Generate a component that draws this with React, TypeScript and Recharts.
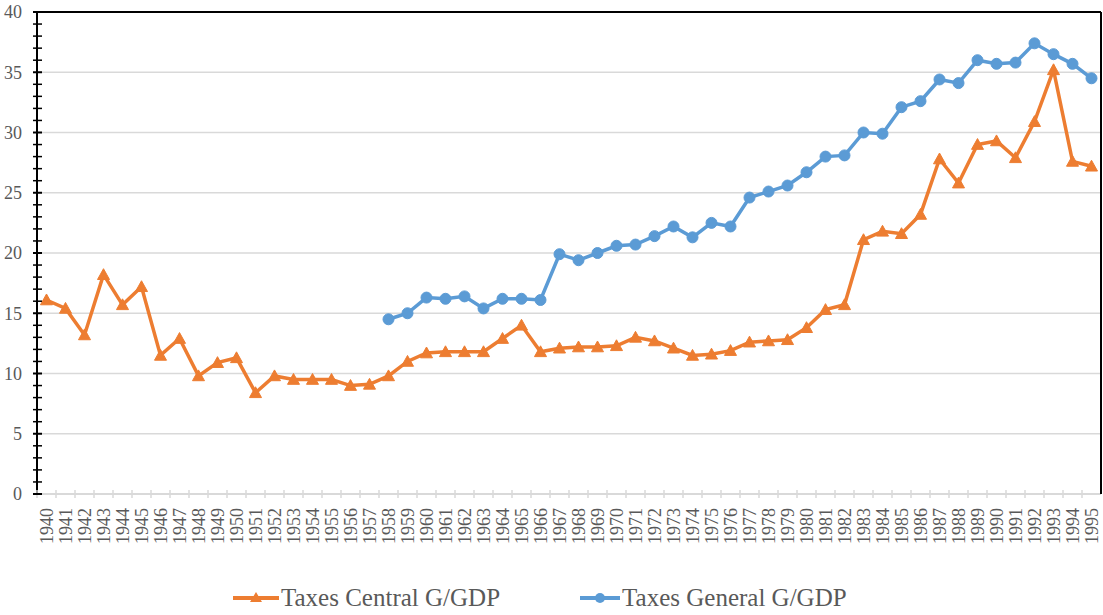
import React from 'react';
import { LineChart, Line, XAxis, YAxis, CartesianGrid, Legend } from 'recharts';

const years = [
  '1940','1941','1942','1943','1944','1945','1946','1947','1948','1949',
  '1950','1951','1952','1953','1954','1955','1956','1957','1958','1959',
  '1960','1961','1962','1963','1964','1965','1966','1967','1968','1969',
  '1970','1971','1972','1973','1974','1975','1976','1977','1978','1979',
  '1980','1981','1982','1983','1984','1985','1986','1987','1988','1989',
  '1990','1991','1992','1993','1994','1995',
];

const taxesCentral = [
  16.1, 15.4, 13.2, 18.2, 15.7, 17.2, 11.5, 12.9, 9.8, 10.9,
  11.3, 8.4, 9.8, 9.5, 9.5, 9.5, 9.0, 9.1, 9.8, 11.0,
  11.7, 11.8, 11.8, 11.8, 12.9, 14.0, 11.8, 12.1, 12.2, 12.2,
  12.3, 13.0, 12.7, 12.1, 11.5, 11.6, 11.9, 12.6, 12.7, 12.8,
  13.8, 15.3, 15.7, 21.1, 21.8, 21.6, 23.2, 27.8, 25.8, 29.0,
  29.3, 27.9, 30.9, 35.2, 27.6, 27.2,
];

const taxesGeneral: (number | null)[] = [
  null, null, null, null, null, null, null, null, null, null,
  null, null, null, null, null, null, null, null, 14.5, 15.0,
  16.3, 16.2, 16.4, 15.4, 16.2, 16.2, 16.1, 19.9, 19.4, 20.0,
  20.6, 20.7, 21.4, 22.2, 21.3, 22.5, 22.2, 24.6, 25.1, 25.6,
  26.7, 28.0, 28.1, 30.0, 29.9, 32.1, 32.6, 34.4, 34.1, 36.0,
  35.7, 35.8, 37.4, 36.5, 35.7, 34.5,
];

const yMajorTicks = [0, 5, 10, 15, 20, 25, 30, 35, 40];
const yMinorTicks = [
  0, 1, 2, 3, 4, 5, 6, 7, 8, 9, 10, 11, 12, 13, 14, 15, 16, 17, 18, 19, 20,
  21, 22, 23, 24, 25, 26, 27, 28, 29, 30, 31, 32, 33, 34, 35, 36, 37, 38, 39, 40,
];
const gridValues = [5, 10, 15, 20, 25, 30, 35];

const seriesNames = { central: 'Taxes Central G/GDP', general: 'Taxes General G/GDP' };
const ORANGE = '#ED7D31';
const BLUE = '#5B9BD5';
const FONT = '"Liberation Serif", "Times New Roman", serif';
const TEXT = '#595959';

const data = years.map((y, i) => ({
  year: y,
  central: taxesCentral[i],
  general: taxesGeneral[i],
}));

const Triangle = (props: any) => {
  const { cx, cy } = props;
  if (cx == null || cy == null) return null;
  const s = 6;
  return (
    <path
      d={`M${cx},${cy - s} L${cx + s},${cy + s * 0.8} L${cx - s},${cy + s * 0.8} Z`}
      fill={ORANGE}
      stroke={ORANGE}
      strokeWidth={1}
    />
  );
};

const Circle = (props: any) => {
  const { cx, cy, value } = props;
  if (cx == null || cy == null || value == null) return null;
  return <circle cx={cx} cy={cy} r={5.5} fill={BLUE} stroke={BLUE} />;
};

const XTick = (props: any) => {
  const { x, y, payload } = props;
  return (
    <g>
      <line x1={x - 9.5} x2={x - 9.5} y1={y - 12} y2={y - 4} stroke="#d9d9d9" strokeWidth={1.5} />
      <g transform={`translate(${x},${y})`}>
        <text
          x={-6}
          y={0}
          dy="0.35em"
          transform="rotate(-90)"
          textAnchor="end"
          fontFamily={FONT}
          fontSize={18}
          fill={TEXT}
        >
          {payload.value}
        </text>
      </g>
    </g>
  );
};

const YTick = (props: any) => {
  const { x, y, payload } = props;
  const v = payload.value;
  const major = yMajorTicks.includes(v);
  return (
    <g>
      <line x1={x + 11} x2={x + 20} y1={y} y2={y} stroke="#000" strokeWidth={major ? 2 : 1.5} />
      {major && (
        <text x={x} y={y} dy="0.35em" textAnchor="end" fontFamily={FONT} fontSize={18} fill={TEXT}>
          {v}
        </text>
      )}
    </g>
  );
};

const LegendContent = () => (
  <div
    style={{
      display: 'flex',
      justifyContent: 'flex-start',
      alignItems: 'center',
      height: 40,
      paddingLeft: 233,
      paddingTop: 6,
      boxSizing: 'border-box',
      fontFamily: FONT,
      fontSize: 25,
      color: TEXT,
      gap: 80,
    }}
  >
    <div style={{ display: 'flex', alignItems: 'center' }}>
      <svg width={46} height={20}>
        <line x1={0} x2={46} y1={10} y2={10} stroke={ORANGE} strokeWidth={4} />
        <path d="M23,4 L29,14 L17,14 Z" fill={ORANGE} />
      </svg>
      <span style={{ marginLeft: 2 }}>{seriesNames.central}</span>
    </div>
    <div style={{ display: 'flex', alignItems: 'center' }}>
      <svg width={40} height={20}>
        <line x1={0} x2={40} y1={10} y2={10} stroke={BLUE} strokeWidth={4} />
        <circle cx={20} cy={10} r={5} fill={BLUE} />
      </svg>
      <span style={{ marginLeft: 2 }}>{seriesNames.general}</span>
    </div>
  </div>
);

export default function App() {
  return (
    <div style={{ position: 'absolute', left: 0, top: 0, width: 1103, height: 615, background: '#fff' }}>
      <LineChart
        width={1103}
        height={615}
        data={data}
        margin={{ top: 11, right: 0, bottom: 0, left: 0 }}
      >
        <CartesianGrid
          horizontal={true}
          vertical={false}
          horizontalValues={gridValues}
          stroke="#d9d9d9"
          strokeWidth={1.5}
        />
        <XAxis
          dataKey="year"
          scale="band"
          interval={0}
          height={81}
          axisLine={{ stroke: '#d9d9d9', strokeWidth: 2 }}
          tickLine={false}
          tick={<XTick />}
        />
        <XAxis
          xAxisId="top"
          orientation="top"
          dataKey="year"
          scale="band"
          height={1}
          tick={false}
          tickLine={false}
          axisLine={{ stroke: '#000', strokeWidth: 2 }}
        />
        <YAxis
          width={37}
          domain={[0, 40]}
          ticks={yMinorTicks}
          interval={0}
          allowDataOverflow
          tickSize={4}
          tickMargin={11}
          tickLine={false}
          axisLine={{ stroke: '#000', strokeWidth: 2 }}
          tick={<YTick />}
        />
        <YAxis
          yAxisId="right"
          orientation="right"
          width={2}
          domain={[0, 40]}
          tick={false}
          tickLine={false}
          axisLine={{ stroke: '#000', strokeWidth: 2 }}
        />
        <Legend verticalAlign="bottom" height={40} content={<LegendContent />} />
        <Line
          type="linear"
          dataKey="central"
          name={seriesNames.central}
          stroke={ORANGE}
          strokeWidth={3.5}
          dot={<Triangle />}
          activeDot={false}
          isAnimationActive={false}
        />
        <Line
          type="linear"
          dataKey="general"
          name={seriesNames.general}
          stroke={BLUE}
          strokeWidth={3.5}
          dot={<Circle />}
          activeDot={false}
          connectNulls={false}
          isAnimationActive={false}
        />
      </LineChart>
    </div>
  );
}
